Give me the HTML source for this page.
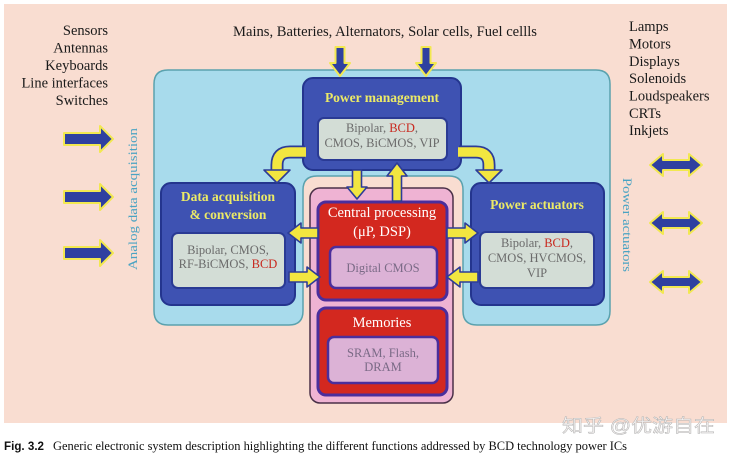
<!DOCTYPE html>
<html><head><meta charset="utf-8"><style>
html,body{margin:0;padding:0;background:#fff;}
svg{display:block;}
text{font-family:"Liberation Serif","Noto Serif CJK SC",serif;}
</style></head><body>
<svg width="734" height="457" viewBox="0 0 734 457" xmlns="http://www.w3.org/2000/svg">
<rect x="0" y="0" width="734" height="457" fill="#ffffff"/>
<rect x="4" y="4" width="723" height="419" fill="#f9ddd1"/>

<!-- light blue U shape -->
<path d="M168 70 L596 70 Q610 70 610 84 L610 311 Q610 325 596 325 L477 325 Q463 325 463 311 L463 190 Q463 176 449 176 L317 176 Q303 176 303 190 L303 311 Q303 325 289 325 L168 325 Q154 325 154 311 L154 84 Q154 70 168 70 Z" fill="#a8dbec" stroke="#5aa2ae" stroke-width="1.5"/>

<!-- pink container -->
<rect x="310" y="188" width="143" height="215" rx="10" fill="#efb3d3" stroke="#4a3048" stroke-width="1.5"/>

<!-- Power management -->
<rect x="303" y="78" width="158" height="92" rx="10" fill="#3e52b2" stroke="#24358e" stroke-width="2"/>
<rect x="318" y="118" width="129" height="42" rx="6" fill="#d3ddd6" stroke="#2a3a94" stroke-width="2"/>

<!-- Data acquisition -->
<rect x="161" y="183" width="134" height="122" rx="10" fill="#3e52b2" stroke="#24358e" stroke-width="2"/>
<rect x="172" y="233" width="113" height="55" rx="6" fill="#d3ddd6" stroke="#2a3a94" stroke-width="2"/>

<!-- Power actuators -->
<rect x="471" y="183" width="133" height="122" rx="10" fill="#3e52b2" stroke="#24358e" stroke-width="2"/>
<rect x="480" y="232" width="114" height="56" rx="6" fill="#d3ddd6" stroke="#2a3a94" stroke-width="2"/>

<!-- Central processing -->
<rect x="318" y="202" width="129" height="98" rx="8" fill="#d3281f" stroke="#4b2e9c" stroke-width="3"/>
<rect x="330" y="247" width="107" height="41" rx="6" fill="#dcb2d6" stroke="#4b2e9c" stroke-width="2.5"/>

<!-- Memories -->
<rect x="318" y="308" width="129" height="87" rx="8" fill="#d3281f" stroke="#4b2e9c" stroke-width="3"/>
<rect x="328" y="337" width="110" height="46" rx="6" fill="#dcb2d6" stroke="#4b2e9c" stroke-width="2.5"/>

<!-- top blue down arrows -->
<g fill="#2f40a0" stroke="#f2e850" stroke-width="2" stroke-linejoin="round">
<polygon points="335.5,47 344.5,47 344.5,63 350,63 340,76 330,63 335.5,63"/>
<polygon points="421.5,47 430.5,47 430.5,63 436,63 426,76 416,63 421.5,63"/>
</g>

<!-- curved yellow arrows -->
<g fill="none" stroke-linecap="butt">
<path d="M305 152 L290 152 Q277 152 277 165 L277 172" stroke="#2d3c98" stroke-width="13"/>
<path d="M306 152 L290 152 Q277 152 277 165 L277 173" stroke="#f2e640" stroke-width="9.5"/>
<path d="M459 152 L476 152 Q489 152 489 165 L489 172" stroke="#2d3c98" stroke-width="13"/>
<path d="M458 152 L476 152 Q489 152 489 165 L489 173" stroke="#f2e640" stroke-width="9.5"/>
</g>
<g fill="#f2e640" stroke="#2d3c98" stroke-width="1.6" stroke-linejoin="round">
<polygon points="264,170 290,170 277,183"/>
<polygon points="476,170 502,170 489,183"/>
<polygon points="352.5,170 361.5,170 361.5,187 367,187 357,199 347,187 352.5,187"/>
<polygon points="392.5,201 401.5,201 401.5,176 407,176 397,163 387,176 392.5,176"/>
<polygon points="318,228 301,228 301,223 288,233 301,243 301,238 318,238"/>
<polygon points="289,272 307,272 307,267 320,277 307,287 307,282 289,282"/>
<polygon points="447,228 465,228 465,223 478,233 465,243 465,238 447,238"/>
<polygon points="478,272 460,272 460,267 447,277 460,287 460,282 478,282"/>
</g>

<!-- left blue arrows -->
<g fill="#2f40a0" stroke="#f2e850" stroke-width="2" stroke-linejoin="round">
<polygon points="64,133 100,133 100,126 113,139 100,152 100,145 64,145"/>
<polygon points="64,191 100,191 100,184 113,197 100,210 100,203 64,203"/>
<polygon points="64,247 100,247 100,240 113,253 100,266 100,259 64,259"/>
<polygon points="650,165 663,154 663,160 689,160 689,154 702,165 689,176 689,170 663,170 663,176"/>
<polygon points="650,223 663,212 663,218 689,218 689,212 702,223 689,234 689,228 663,228 663,234"/>
<polygon points="650,282 663,271 663,277 689,277 689,271 702,282 689,293 689,287 663,287 663,293"/>
</g>

<!-- Lists -->
<g font-size="14.5" fill="#1a1a1a" text-anchor="end">
<text x="108" y="35">Sensors</text>
<text x="108" y="52.5">Antennas</text>
<text x="108" y="70">Keyboards</text>
<text x="108" y="87.5">Line interfaces</text>
<text x="108" y="105">Switches</text>
</g>
<g font-size="14.5" fill="#1a1a1a">
<text x="629" y="31">Lamps</text>
<text x="629" y="48.5">Motors</text>
<text x="629" y="66">Displays</text>
<text x="629" y="83">Solenoids</text>
<text x="629" y="100.5">Loudspeakers</text>
<text x="629" y="118">CRTs</text>
<text x="629" y="135">Inkjets</text>
</g>
<text x="233" y="36" font-size="14.5" fill="#1a1a1a" textLength="304" lengthAdjust="spacingAndGlyphs">Mains, Batteries, Alternators, Solar cells, Fuel cellls</text>

<!-- vertical labels -->
<text transform="translate(137,199) rotate(-90)" text-anchor="middle" font-size="13" fill="#4aa3c3" textLength="142" lengthAdjust="spacingAndGlyphs">Analog data acquisition</text>
<text transform="translate(623,225) rotate(90)" text-anchor="middle" font-size="13" fill="#4aa3c3" textLength="94" lengthAdjust="spacingAndGlyphs">Power actuators</text>

<!-- titles -->
<g font-size="13.5" font-weight="bold" fill="#ecea66" text-anchor="middle">
<text x="382" y="102">Power management</text>
<text x="228" y="201">Data acquisition</text>
<text x="228" y="219">&amp; conversion</text>
<text x="537" y="209">Power actuators</text>
</g>
<g font-size="14.5" fill="#ffffff" text-anchor="middle">
<text x="382" y="217">Central processing</text>
<text x="382" y="236">(μP, DSP)</text>
<text x="382" y="327">Memories</text>
</g>

<!-- inner texts -->
<g font-size="12.5" fill="#6b6b6b" text-anchor="middle">
<text x="382" y="132">Bipolar, <tspan fill="#c8281e">BCD</tspan>,</text>
<text x="382" y="147">CMOS, BiCMOS, VIP</text>
<text x="228" y="254">Bipolar, CMOS,</text>
<text x="228" y="268">RF-BiCMOS, <tspan fill="#c8281e">BCD</tspan></text>
<text x="537" y="247">Bipolar, <tspan fill="#c8281e">BCD</tspan>,</text>
<text x="537" y="262">CMOS, HVCMOS,</text>
<text x="537" y="277">VIP</text>
</g>
<g font-size="12.5" fill="#7a6a86" text-anchor="middle">
<text x="383" y="272">Digital CMOS</text>
<text x="383" y="357">SRAM, Flash,</text>
<text x="383" y="371">DRAM</text>
</g>

<!-- caption -->
<text x="4" y="450" style="font-family:'Liberation Sans',sans-serif;font-weight:bold;font-size:11.5px;" fill="#111" textLength="40" lengthAdjust="spacingAndGlyphs">Fig. 3.2</text>
<text x="53" y="450" font-size="12.5" fill="#111" textLength="574" lengthAdjust="spacingAndGlyphs">Generic electronic system description highlighting the different functions addressed by BCD technology power ICs</text>

<!-- watermark -->
<text x="562" y="432" style="font-family:'Liberation Sans','Noto Sans CJK SC',sans-serif;font-size:18px;" fill="#f6f3f2" stroke="#b4b4b4" stroke-width="0.5" textLength="153" lengthAdjust="spacingAndGlyphs">知乎 @优游自在</text>
</svg>
</body></html>
